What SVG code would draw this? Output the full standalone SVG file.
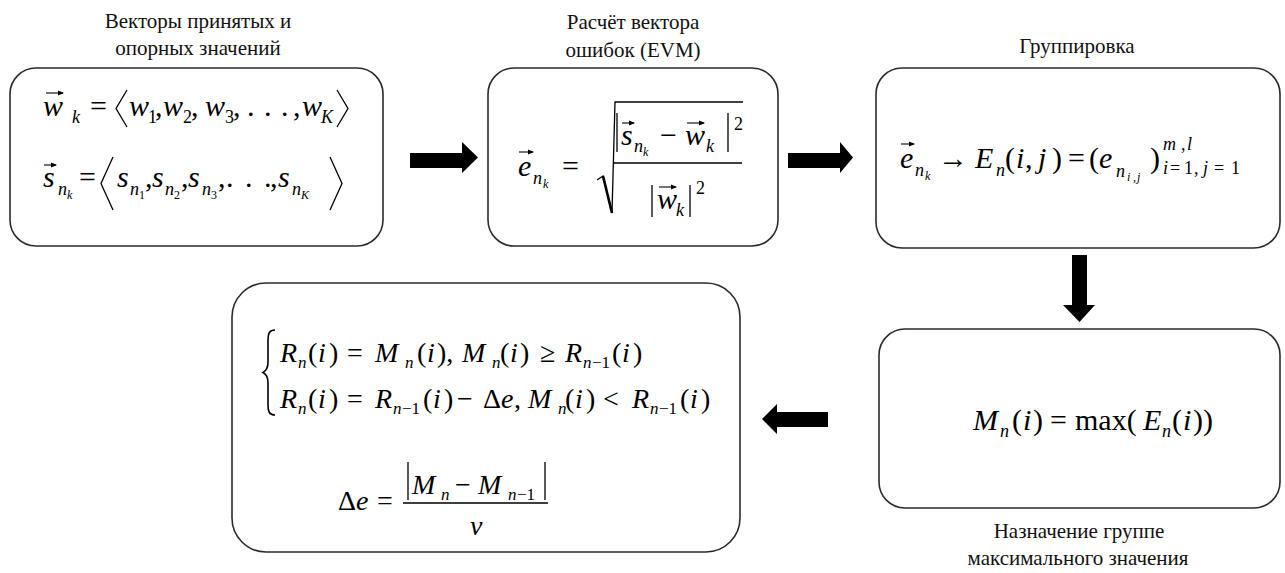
<svg xmlns="http://www.w3.org/2000/svg" width="1285" height="573" viewBox="0 0 1285 573" font-family="Liberation Serif">
<style>
text, tspan { font-family: 'Liberation Serif', 'Times New Roman', serif !important; }
.box{fill:#fff;stroke:#2a2a2a;stroke-width:1.6}
.ln{stroke:#000;stroke-width:1.3;fill:none}
.va{stroke:#000;stroke-width:1.1;fill:none}
.arr{fill:#000}
.t{font-size:21px;fill:#111;text-anchor:middle}
.m{font-size:30px;fill:#000}
.m4{font-size:28px;fill:#000}
.i{font-style:italic}
.s{font-size:18px}
.s4{font-size:17px}
.ss{font-size:12px}
</style>
<defs>
<marker id="vh" viewBox="0 0 6 6" refX="5" refY="3" markerWidth="6" markerHeight="6" markerUnits="userSpaceOnUse" orient="auto">
<path d="M0 0.5 L6 3 L0 5.5 z" fill="#000"/>
</marker>
</defs>

<g id="titles">
<text class="t" font-family="Liberation Serif" style="font-family:'Liberation Serif',serif !important" x="198" y="28">Векторы принятых и</text>
<text class="t" font-family="Liberation Serif" style="font-family:'Liberation Serif',serif !important" x="198" y="55">опорных значений</text>
<text class="t" font-family="Liberation Serif" style="font-family:'Liberation Serif',serif !important" x="633" y="29">Расчёт вектора</text>
<text class="t" font-family="Liberation Serif" style="font-family:'Liberation Serif',serif !important" x="633" y="57">ошибок (EVM)</text>
<text class="t" font-family="Liberation Serif" style="font-family:'Liberation Serif',serif !important" x="1077" y="53">Группировка</text>
<text class="t" font-family="Liberation Serif" style="font-family:'Liberation Serif',serif !important" x="1079" y="538">Назначение группе</text>
<text class="t" font-family="Liberation Serif" style="font-family:'Liberation Serif',serif !important" x="1078" y="565">максимального значения</text>
</g>

<g id="node-vectors">
<rect class="box" x="10" y="68" width="373" height="178" rx="26"/>
<text class="m" font-family="Liberation Serif" style="font-family:'Liberation Serif',serif !important">
<tspan class="i" x="43" y="116">w</tspan><tspan class="i s" x="72" y="123">k</tspan><tspan x="90" y="116">=</tspan>
<tspan class="i" x="129" y="116">w</tspan><tspan class="s" x="148" y="123">1</tspan><tspan x="155" y="116">,</tspan>
<tspan class="i" x="163" y="116">w</tspan><tspan class="s" x="183" y="123">2</tspan><tspan x="191" y="116">,</tspan>
<tspan class="i" x="205" y="116">w</tspan><tspan class="s" x="225" y="123">3</tspan><tspan x="233" y="116">,</tspan>
<tspan x="247 264 281" y="116">...</tspan><tspan x="293" y="116">,</tspan>
<tspan class="i" x="302" y="116">w</tspan><tspan class="i s" x="321" y="123">K</tspan>
</text>
<path class="va" d="M46 93 H63" marker-end="url(#vh)"/>
<path class="ln" d="M127 90 L116 108.5 L127 127 M337 90 L348 108.5 L337 127"/>
<text class="m" font-family="Liberation Serif" style="font-family:'Liberation Serif',serif !important">
<tspan class="i" x="43" y="187">s</tspan><tspan class="i s" x="58" y="195">n</tspan><tspan class="i ss" x="67" y="199">k</tspan><tspan x="79" y="187">=</tspan>
<tspan class="i" x="117" y="187">s</tspan><tspan class="i s" x="130" y="195">n</tspan><tspan class="ss" x="139" y="199">1</tspan><tspan x="145" y="187">,</tspan>
<tspan class="i" x="152" y="187">s</tspan><tspan class="i s" x="165" y="195">n</tspan><tspan class="ss" x="174" y="199">2</tspan><tspan x="181" y="187">,</tspan>
<tspan class="i" x="188" y="187">s</tspan><tspan class="i s" x="202" y="195">n</tspan><tspan class="ss" x="211" y="199">3</tspan><tspan x="218" y="187">,</tspan>
<tspan x="226 245 264" y="187">...</tspan><tspan x="270" y="187">,</tspan>
<tspan class="i" x="278" y="187">s</tspan><tspan class="i s" x="292" y="195">n</tspan><tspan class="i ss" x="301" y="199">K</tspan>
</text>
<path class="va" d="M44 165 H56" marker-end="url(#vh)"/>
<path class="ln" d="M113 157 L101 183.5 L113 210 M330 157 L342 183.5 L330 210"/>
</g>

<g id="node-evm">
<rect class="box" x="488" y="68" width="290" height="178" rx="26"/>
<text class="m" font-family="Liberation Serif" style="font-family:'Liberation Serif',serif !important">
<tspan class="i" x="518" y="176">e</tspan><tspan class="i s" x="533" y="184">n</tspan><tspan class="i ss" x="543" y="188">k</tspan><tspan x="562" y="176">=</tspan>
<tspan class="i" x="621" y="145">s</tspan><tspan class="i s" x="634" y="152">n</tspan><tspan class="i ss" x="643" y="156">k</tspan>
<tspan x="660" y="145">−</tspan><tspan class="i" x="685" y="145">w</tspan><tspan class="i s" x="706" y="152">k</tspan>
<tspan class="s" x="734" y="130">2</tspan>
<tspan class="i" x="657" y="209">w</tspan><tspan class="i s" x="676" y="216">k</tspan><tspan class="s" x="696" y="194">2</tspan>
</text>
<path class="va" d="M519 152 H533" marker-end="url(#vh)"/>
<path class="va" d="M622 123 H634" marker-end="url(#vh)"/>
<path class="va" d="M687 123 H704" marker-end="url(#vh)"/>
<path class="va" d="M659 187 H676" marker-end="url(#vh)"/>
<path d="M597 180 L603 176 L612 213 L615 102 H743" fill="none" stroke="#000" stroke-width="1.3"/>
<path d="M603 176 L612 213" stroke="#000" stroke-width="2.6"/>
<path class="ln" d="M617 113 V152 M728 113 V152 M652 185 V217 M690 185 V217 M613 163 H742"/>
</g>

<g id="node-group">
<rect class="box" x="876" y="68" width="404" height="180" rx="26"/>
<text class="m" font-family="Liberation Serif" style="font-family:'Liberation Serif',serif !important">
<tspan class="i" x="900" y="168">e</tspan><tspan class="i s" x="915" y="176">n</tspan><tspan class="i ss" x="925" y="180">k</tspan>
<tspan x="938" y="168">→</tspan>
<tspan class="i" x="975" y="168">E</tspan><tspan class="i s" x="996" y="176">n</tspan>
<tspan x="1005" y="168">(</tspan><tspan class="i" x="1016" y="168">i</tspan><tspan x="1025" y="168">,</tspan><tspan class="i" x="1038" y="168">j</tspan><tspan x="1052" y="168">)</tspan>
<tspan x="1068" y="168">=</tspan>
<tspan x="1089" y="168">(</tspan><tspan class="i" x="1099" y="168">e</tspan><tspan class="i s" x="1116" y="177">n</tspan><tspan class="i ss" x="1127 1133 1137" y="181">i,j</tspan><tspan x="1150" y="168">)</tspan>
<tspan class="i s" x="1163" y="150">m</tspan><tspan class="s" x="1181" y="150">,</tspan><tspan class="i s" x="1187" y="150">l</tspan>
<tspan class="i s" x="1163" y="174">i</tspan><tspan class="s" x="1170" y="174">=</tspan><tspan class="s" x="1184" y="174">1</tspan><tspan class="s" x="1194" y="174">,</tspan>
<tspan class="i s" x="1203" y="174">j</tspan><tspan class="s" x="1214" y="174">=</tspan><tspan class="s" x="1231" y="174">1</tspan>
</text>
<path class="va" d="M901 144 H914" marker-end="url(#vh)"/>
</g>

<g id="node-max">
<rect class="box" x="879" y="329" width="401" height="179" rx="26"/>
<text class="m" font-family="Liberation Serif" style="font-family:'Liberation Serif',serif !important">
<tspan class="i" x="973" y="430">M</tspan><tspan class="i s" x="1000" y="437">n</tspan>
<tspan x="1012" y="430">(</tspan><tspan class="i" x="1023" y="430">i</tspan><tspan x="1033" y="430">)</tspan>
<tspan x="1050" y="430">=</tspan><tspan x="1075" y="430">max(</tspan>
<tspan class="i" x="1143" y="430">E</tspan><tspan class="i s" x="1162" y="437">n</tspan>
<tspan x="1172" y="430">(</tspan><tspan class="i" x="1183" y="430">i</tspan><tspan x="1193" y="430">))</tspan>
</text>
</g>

<g id="node-update">
<rect class="box" x="232" y="283" width="508" height="269" rx="34"/>
<path d="M275 330 C269 330 268 334 268 340 L268 362 C268 368 266 371 263 372.5 C266 374 268 377 268 383 L268 405 C268 411 269 415 275 415" fill="none" stroke="#000" stroke-width="1.6"/>
<text class="m4" font-family="Liberation Serif" style="font-family:'Liberation Serif',serif !important">
<tspan class="i" x="280" y="362">R</tspan><tspan class="i s4" x="298" y="368">n</tspan><tspan x="308" y="362">(</tspan><tspan class="i" x="318" y="362">i</tspan><tspan x="329" y="362">)</tspan>
<tspan x="347" y="362">=</tspan>
<tspan class="i" x="375" y="362">M</tspan><tspan class="i s4" x="405" y="368">n</tspan><tspan x="417" y="362">(</tspan><tspan class="i" x="427" y="362">i</tspan><tspan x="437" y="362">),</tspan>
<tspan class="i" x="462" y="362">M</tspan><tspan class="i s4" x="492" y="368">n</tspan><tspan x="500" y="362">(</tspan><tspan class="i" x="510" y="362">i</tspan><tspan x="520" y="362">)</tspan>
<tspan x="540" y="362">≥</tspan>
<tspan class="i" x="565" y="362">R</tspan><tspan class="i s4" x="583" y="368">n</tspan><tspan class="s4" x="592" y="368">−1</tspan><tspan x="612" y="362">(</tspan><tspan class="i" x="622" y="362">i</tspan><tspan x="633" y="362">)</tspan>

<tspan class="i" x="280" y="408">R</tspan><tspan class="i s4" x="298" y="414">n</tspan><tspan x="308" y="408">(</tspan><tspan class="i" x="318" y="408">i</tspan><tspan x="329" y="408">)</tspan>
<tspan x="347" y="408">=</tspan>
<tspan class="i" x="375" y="408">R</tspan><tspan class="i s4" x="393" y="414">n</tspan><tspan class="s4" x="402" y="414">−1</tspan><tspan x="423" y="408">(</tspan><tspan class="i" x="433" y="408">i</tspan><tspan x="444" y="408">)</tspan>
<tspan x="457" y="408">−</tspan>
<tspan x="483" y="408">Δ</tspan><tspan class="i" x="501" y="408">e</tspan><tspan x="514" y="408">,</tspan>
<tspan class="i" x="528" y="408">M</tspan><tspan class="i s4" x="558" y="414">n</tspan><tspan x="565" y="408">(</tspan><tspan class="i" x="575" y="408">i</tspan><tspan x="586" y="408">)</tspan>
<tspan x="603" y="408">&lt;</tspan>
<tspan class="i" x="632" y="408">R</tspan><tspan class="i s4" x="650" y="414">n</tspan><tspan class="s4" x="659" y="414">−1</tspan><tspan x="680" y="408">(</tspan><tspan class="i" x="690" y="408">i</tspan><tspan x="701" y="408">)</tspan>

<tspan x="338" y="510">Δ</tspan><tspan class="i" x="356" y="510">e</tspan><tspan x="377" y="510">=</tspan>
<tspan class="i" x="412" y="494">M</tspan><tspan class="i s4" x="441" y="500">n</tspan><tspan x="455" y="494">−</tspan>
<tspan class="i" x="478" y="494">M</tspan><tspan class="i s4" x="508" y="500">n</tspan><tspan class="s4" x="517" y="500">−1</tspan>
<tspan class="i" x="470" y="535">v</tspan>
</text>
<path class="ln" d="M408 462 V500 M545 462 V500 M403 503 H548"/>
</g>

<g id="connectors">
<path class="arr" d="M410 153 H462 V142 L478 157.5 L462 173 V168 H410 z"/>
<path class="arr" d="M788 153 H840 V142 L853 157.5 L840 173 V168 H788 z"/>
<path class="arr" d="M1072 255 H1087 V305 H1095 L1079.5 322 L1063 305 H1072 z"/>
<path class="arr" d="M828 412 V427 H777 V434 L762 419 L777 404 V412 z"/>
</g>
</svg>
